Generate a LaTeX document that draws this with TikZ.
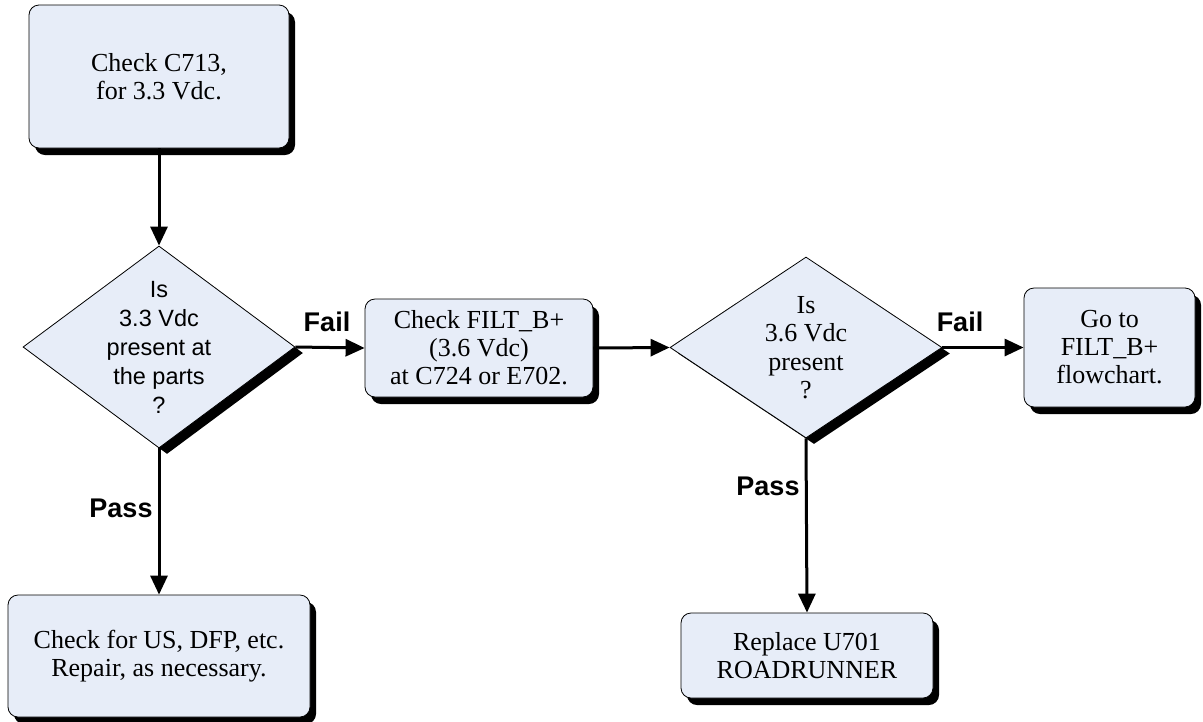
\documentclass[tikz,border=0pt]{standalone}
\usepackage{fontspec}
\setmainfont{Liberation Serif}
\setsansfont{Liberation Sans}
\usetikzlibrary{shapes.geometric,shadows,arrows.meta}
\definecolor{boxfill}{RGB}{231,237,248}

\tikzset{
  box/.style={draw=black, line width=0.8pt, fill=boxfill, rounded corners=10pt, align=center, inner sep=0pt,
    font=\fontsize{26}{28}\selectfont,
    drop shadow={shadow xshift=6pt, shadow yshift=-7pt, fill=black, opacity=1}},
  test/.style={diamond, draw=black, line width=0.8pt, fill=boxfill, align=center, inner sep=-30pt,
    drop shadow={shadow xshift=8pt, shadow yshift=-6pt, fill=black, opacity=1}},
  flow/.style={line width=3pt, -{Triangle[length=19pt,width=17pt]}},
  tag/.style={font=\sffamily\bfseries\fontsize{27}{30}\selectfont, inner sep=0pt}
}

\begin{document}
\begin{tikzpicture}[x=1pt, y=-1pt]
        \useasboundingbox (0,0) rectangle (1203,721);
        % boxes and tests
        \node[box, minimum width=260pt, minimum height=143pt] (chk_in) at (159,76.5) {Check C713,\\for 3.3 Vdc.};
        \node[test, minimum width=272pt, minimum height=202pt, font=\sffamily\fontsize{23.5}{29}\selectfont] (test_a) at (159,347)
            {Is\\3.3 Vdc\\present at\\the parts\\?};
        \node[box, minimum width=228pt, minimum height=98pt] (filt_chk) at (479,348) {Check FILT\_B+\\(3.6 Vdc)\\at C724 or E702.};
        \node[test, minimum width=272pt, minimum height=181pt, font=\fontsize{26}{28.5}\selectfont] (test_b) at (806,347.5)
            {Is\\3.6 Vdc\\present\\?};
        \node[box, minimum width=171pt, minimum height=119pt] (goto_out) at (1109.5,347.5) {Go to\\FILT\_B+\\flowchart.};
        \node[box, minimum width=302pt, minimum height=122pt] (repair_out) at (159,656) {Check for US, DFP, etc.\\Repair, as necessary.};
        \node[box, minimum width=252pt, minimum height=85pt] (repl_out) at (807,655.5) {Replace U701\\ROADRUNNER};
        % arrows
        \draw[flow] (chk_in) -- (test_a);
        \draw[flow] (test_a.east) -- (filt_chk.west);
        \draw[flow] (filt_chk.east) -- (test_b.west);
        \draw[flow] (test_b.east) -- (goto_out.west);
        \draw[flow] (test_a.south) -- (repair_out.north);
        \draw[flow] (test_b.south) -- (repl_out.north);
        % labels
        \node[tag] (fail_a) at (327,322) {Fail};
        \node[tag] (fail_b) at (960,322) {Fail};
        \node[tag] (pass_a) at (121,508) {Pass};
        \node[tag] (pass_b) at (768,486) {Pass};
\end{tikzpicture}
\end{document}
